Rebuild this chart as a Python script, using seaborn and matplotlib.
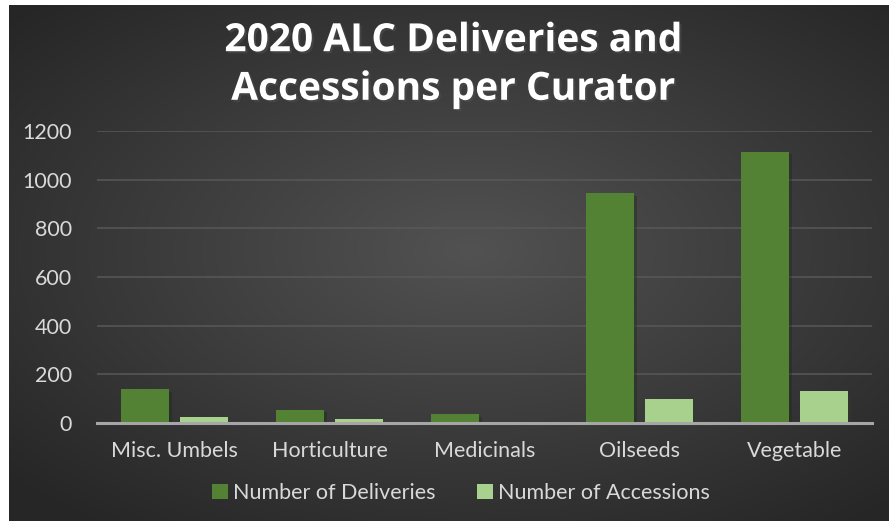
import numpy as np
import pandas as pd
import matplotlib
matplotlib.use("Agg")
import matplotlib.pyplot as plt
import seaborn as sns
from matplotlib import patheffects as pe
from matplotlib.patches import Patch

# Chart data
categories = ["Misc. Umbels", "Horticulture", "Medicinals", "Oilseeds", "Vegetable"]
deliveries = [140, 55, 37, 944, 1115]
accessions = [23, 16, 3, 100, 130]
series_names = ["Number of Deliveries", "Number of Accessions"]
y_ticks = [0, 200, 400, 600, 800, 1000, 1200]
title = "2020 ALC Deliveries and\nAccessions per Curator"

colors = ["#548235", "#A9D18E"]
text_color = "#d9d9d9"

df = pd.DataFrame({
    "category": categories * 2,
    "series": [series_names[0]] * len(categories) + [series_names[1]] * len(categories),
    "value": deliveries + accessions,
})

sns.set_theme(style="dark")
plt.rcParams["font.family"] = ["Lato", "DejaVu Sans"]

W, H = 889, 521
fig = plt.figure(figsize=(W / 100, H / 100), dpi=100)
fig.patch.set_facecolor("white")

# Dark radial-gradient backdrop
bg = fig.add_axes([9 / W, 0, (W - 9) / W, (H - 5) / H], zorder=-10)
gx, gy = np.meshgrid(np.linspace(-1, 1, 880), np.linspace(-1, 1, 516))
r = np.sqrt(((gx - 0.05) / 1.05) ** 2 + ((gy + 0.05) / 1.0) ** 2)
r = np.clip(r / 1.35, 0, 1)
inner, outer = np.array([0x52, 0x52, 0x52]) / 255, np.array([0x26, 0x26, 0x26]) / 255
img = inner[None, None, :] * (1 - r[..., None]) + outer[None, None, :] * r[..., None]
bg.imshow(img, aspect="auto", extent=[0, 1, 0, 1], interpolation="bilinear")
bg.set_axis_off()

ax = fig.add_axes([97 / W, 98 / H, 775 / W, 292 / H])
ax.patch.set_alpha(0)

sns.barplot(
    data=df, x="category", y="value", hue="series", hue_order=series_names,
    palette=colors, width=0.76, gap=0.186, ax=ax, legend=False, errorbar=None,
    saturation=1, linewidth=0,
)

for bar in ax.patches:
    bar.set_path_effects([pe.SimplePatchShadow(offset=(2, -2), alpha=0.35), pe.Normal()])
    bar.set_zorder(3)

ax.set_xlim(-0.5, len(categories) - 0.5)
ax.set_ylim(0, 1200)
ax.set_yticks(y_ticks)
ax.set_yticklabels([str(v) for v in y_ticks])
ax.set_xlabel("")
ax.set_ylabel("")
ax.grid(axis="y", color="#585858", linewidth=1.1, zorder=0)
ax.grid(axis="x", visible=False)
ax.set_axisbelow(True)
for side in ["top", "right", "left"]:
    ax.spines[side].set_visible(False)
ax.spines["bottom"].set_color("#a6a6a6")
ax.spines["bottom"].set_linewidth(2.2)
ax.spines["bottom"].set_zorder(4)
ax.tick_params(axis="both", length=0, colors=text_color, labelsize=15.5)
ax.tick_params(axis="y", pad=18)
ax.tick_params(axis="x", pad=13)

handles = [Patch(facecolor=c, edgecolor="none") for c in colors]
fig.legend(
    handles, series_names, loc="center", bbox_to_anchor=(461 / W, 1 - 493 / H),
    ncol=2, frameon=False, fontsize=15.5, labelcolor=text_color,
    handlelength=0.75, handleheight=0.75, handletextpad=0.25, columnspacing=1.9,
)

fig.text(
    453 / W, 1 - 65 / H, title, ha="center", va="center", color="white",
    fontsize=28, fontweight="bold", linespacing=1.32,
    path_effects=[pe.withSimplePatchShadow(offset=(1.5, -1.5), alpha=0.6)],
    family=["Open Sans", "DejaVu Sans"],
)

fig.savefig("out.png", dpi=100)
